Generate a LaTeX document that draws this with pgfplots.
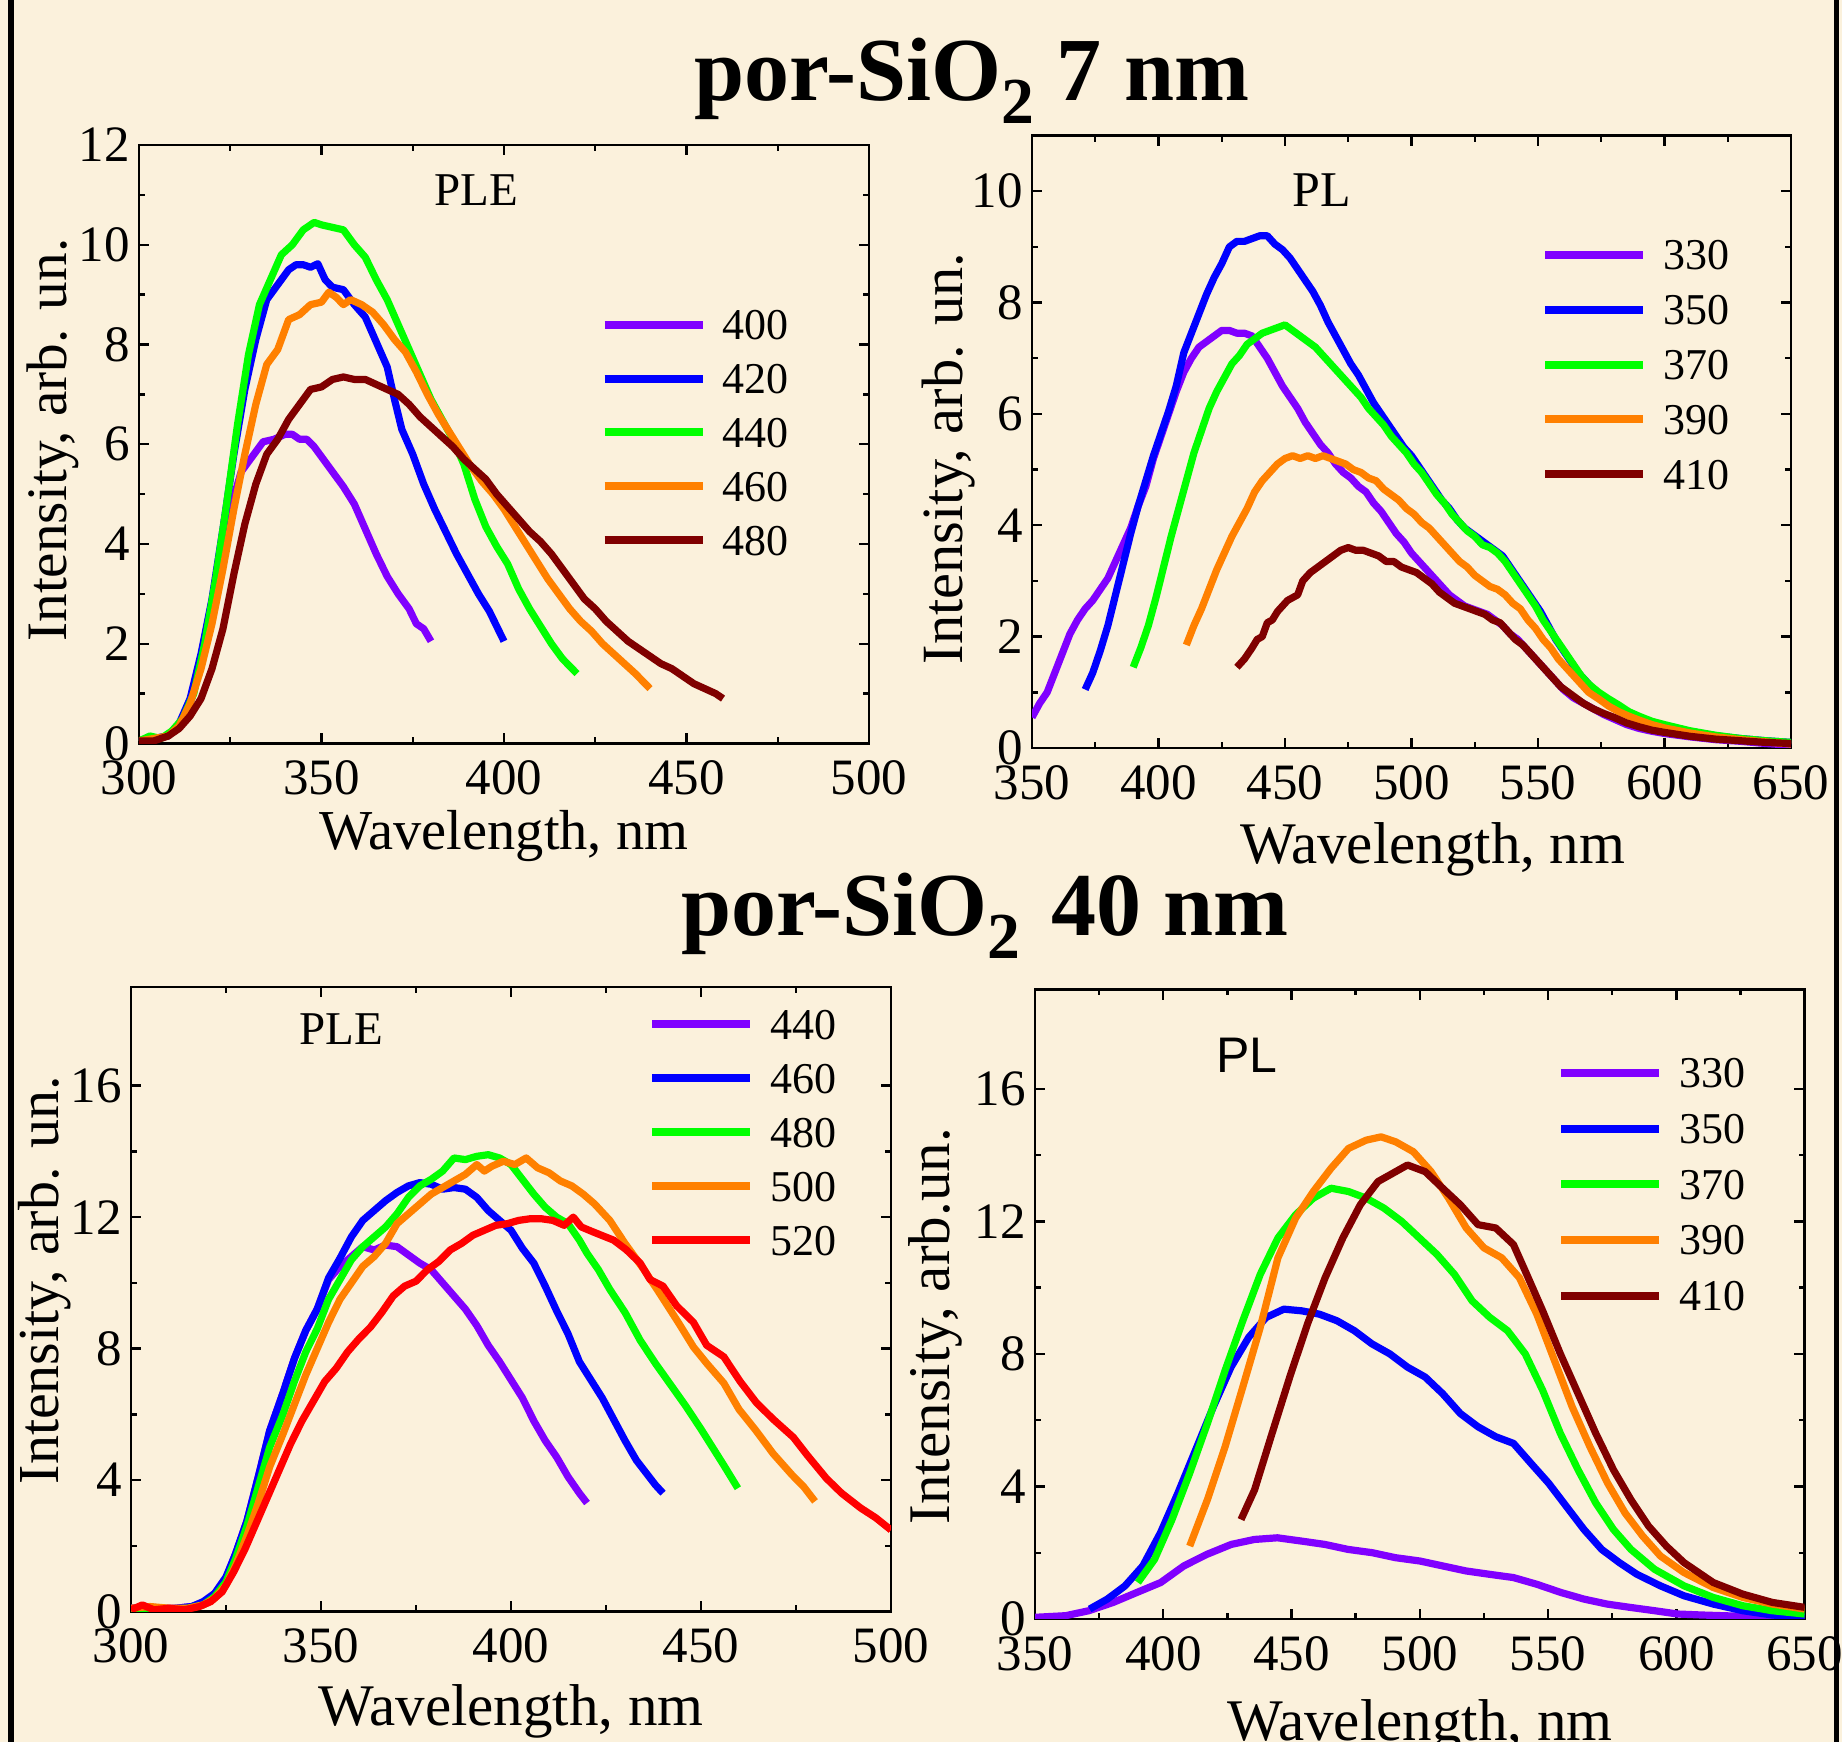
\documentclass[border=0pt]{standalone}
\usepackage{fontspec}
\setmainfont{Liberation Serif}
\newfontfamily\arialf{Liberation Sans}
\usepackage{pgfplots}
\pgfplotsset{compat=1.18}
\definecolor{bgc}{RGB}{251,241,220}
\definecolor{cviolet}{RGB}{128,0,255}
\definecolor{cblue}{RGB}{0,0,255}
\definecolor{cgreen}{RGB}{0,255,0}
\definecolor{corange}{RGB}{255,128,0}
\definecolor{cdred}{RGB}{128,0,0}
\definecolor{cred}{RGB}{255,0,0}
\pgfplotsset{
  panel/.style={
    scale only axis,
    axis line style={line width=0.6pt},
    tick align=inside,
    major tick length=2.6pt, minor tick length=1.5pt,
    tick style={line width=0.6pt, black},
    minor tick num=1,
    /pgf/number format/assume math mode=true,
    ticklabel style={font=\fontsize{12.75}{12.75}\selectfont},
    yticklabel style={xshift=1.2pt},
    xticklabel style={yshift=-0.8pt},
    label style={font=\fontsize{14.75}{14.75}\selectfont},
    xlabel={Wavelength, nm},
    ylabel={Intensity, arb. un.},
    every axis plot/.append style={line width=1.8pt, line join=round, no markers},
    legend cell align=left,
    legend style={draw=none, fill=none, inner sep=0pt, outer sep=0pt,
      font=\fontsize{11}{11}\selectfont, anchor=north west,
      nodes={inner sep=0pt, text height=7.5pt, text depth=0pt},
      /tikz/every odd column/.append style={column sep=4pt}},
    legend image code/.code={\path (0pt,-3.75pt) (24.5pt,3.75pt);
      \draw[#1, line width=2pt, line cap=butt] (0pt,0pt) -- (24.5pt,0pt);},
  }
}
\begin{document}
\begin{tikzpicture}
\fill[bgc] (0pt,0pt) rectangle (460.5pt,435.5pt);
\path[use as bounding box] (0pt,0pt) rectangle (460.5pt,435.5pt);
\fill[black] (2pt,0pt) rectangle (3.5pt,435.5pt);
\fill[black] (458.6pt,0pt) rectangle (459.8pt,435.5pt);

\node[anchor=base west, font=\fontsize{22.5}{22.5}\selectfont\bfseries] at (170.15pt,410.3pt)
  {por-SiO\raisebox{-5.6pt}{\fontsize{16.4}{16.4}\selectfont 2} 7 nm};
\node[anchor=base west, font=\fontsize{22.5}{22.5}\selectfont\bfseries] at (166.75pt,201.5pt)
  {por-SiO\raisebox{-5.6pt}{\fontsize{16.4}{16.4}\selectfont 2}\hspace{2pt} 40 nm};

% ---------- top left: 7 nm PLE ----------
\begin{axis}[panel, at={(34.75pt,249.625pt)}, anchor=south west,
  width=182.5pt, height=149.6pt,
  xmin=300, xmax=500, ymin=0, ymax=12,
  xtick={300,350,...,500}, ytick={0,2,...,12},
  xlabel style={font=\fontsize{14.1}{14.1}\selectfont, at={(axis description cs:0.5,-0.154)}, anchor=center},
  ylabel style={font=\fontsize{14.3}{14.3}\selectfont, at={(axis description cs:-0.118,0.507)}, anchor=center},
  legend style={at={(axis description cs:0.6325,0.7306)}, row sep=4.15pt}]
\addplot[cviolet] coordinates {(300,0.05)(304,0.1)(308,0.15)(311,0.35)(314,0.8)(317,1.6)(320,2.8)(322,3.5)(324,4.3)(326,4.95)(328,5.45)(331,5.75)(334,6.05)(337,6.1)(340,6.2)(342,6.2)(344,6.1)(346,6.1)(348,5.95)(350,5.75)(353,5.45)(356,5.15)(359,4.8)(362,4.3)(365,3.8)(368,3.35)(371,3.0)(374,2.7)(376,2.4)(378,2.3)(380,2.05)};
\addplot[cblue] coordinates {(300,0.05)(304,0.1)(308,0.15)(311,0.4)(314,0.9)(317,1.8)(320,2.9)(323,4.3)(326,5.8)(329,7.1)(332,8.1)(335,8.9)(338,9.2)(341,9.5)(343,9.6)(345,9.6)(347,9.55)(349,9.62)(351,9.3)(353,9.15)(356,9.1)(359,8.8)(362,8.55)(365,8.05)(368,7.55)(370,6.9)(372,6.3)(375,5.8)(378,5.2)(381,4.7)(384,4.25)(387,3.8)(390,3.4)(393,3.0)(396,2.65)(398,2.35)(400,2.05)};
\addplot[cgreen] coordinates {(300,0.05)(303,0.15)(306,0.1)(309,0.25)(312,0.5)(315,1.0)(318,2.0)(321,3.3)(324,4.8)(327,6.4)(330,7.8)(333,8.8)(336,9.3)(339,9.8)(342,10.0)(345,10.3)(348,10.45)(350,10.4)(353,10.35)(356,10.3)(359,10.0)(362,9.75)(365,9.3)(368,8.9)(371,8.4)(374,7.9)(377,7.4)(380,6.9)(383,6.5)(386,6.1)(389,5.6)(392,4.9)(395,4.35)(398,3.95)(401,3.6)(404,3.1)(407,2.7)(410,2.35)(413,2.0)(416,1.7)(418,1.55)(420,1.4)};
\addplot[corange] coordinates {(300,0.05)(304,0.1)(308,0.15)(311,0.35)(314,0.8)(317,1.5)(320,2.4)(323,3.5)(326,4.7)(329,5.8)(332,6.8)(335,7.6)(338,7.9)(341,8.5)(344,8.6)(347,8.8)(350,8.85)(352,9.05)(354,8.95)(356,8.8)(358,8.9)(361,8.8)(364,8.65)(367,8.4)(370,8.1)(373,7.85)(376,7.45)(379,7.0)(382,6.6)(385,6.25)(388,5.9)(391,5.55)(394,5.25)(397,5.0)(400,4.7)(403,4.35)(406,4.0)(409,3.65)(412,3.3)(415,3.0)(418,2.7)(421,2.45)(424,2.25)(427,2.0)(430,1.8)(433,1.6)(436,1.4)(438,1.25)(440,1.1)};
\addplot[cdred] coordinates {(300,0.05)(304,0.05)(308,0.15)(311,0.3)(314,0.55)(317,0.9)(320,1.5)(323,2.3)(326,3.4)(329,4.4)(332,5.2)(335,5.8)(338,6.1)(341,6.5)(344,6.8)(347,7.1)(350,7.15)(353,7.3)(356,7.35)(359,7.3)(362,7.3)(365,7.2)(368,7.1)(371,7.0)(374,6.8)(377,6.55)(380,6.35)(383,6.15)(386,5.95)(389,5.7)(392,5.5)(395,5.3)(398,5.0)(401,4.75)(404,4.5)(407,4.25)(410,4.05)(413,3.8)(416,3.5)(419,3.2)(422,2.9)(425,2.7)(428,2.45)(431,2.25)(434,2.05)(437,1.9)(440,1.75)(443,1.6)(446,1.5)(449,1.35)(452,1.2)(455,1.1)(458,1.0)(460,0.9)};
\legend{400,420,440,460,480}
\node[font=\fontsize{11.75}{11.75}\selectfont] at (axis description cs:0.4616,0.9248) {PLE};
\end{axis}

% ---------- top right: 7 nm PL ----------
\begin{axis}[panel, at={(258pt,248.5pt)}, anchor=south west,
  width=189.75pt, height=153.1pt,
  xmin=350, xmax=650, ymin=0, ymax=11,
  xtick={350,400,...,650}, ytick={0,2,...,10},
  xlabel style={at={(axis description cs:0.528,-0.165)}, anchor=center},
  ylabel style={font=\fontsize{14.6}{14.6}\selectfont, at={(axis description cs:-0.1106,0.473)}, anchor=center},
  legend style={at={(axis description cs:0.671,0.8355)}, row sep=4.4pt}]
\addplot[cviolet] coordinates {(350,0.55)(353,0.8)(356,1.0)(359,1.35)(362,1.7)(365,2.05)(368,2.3)(371,2.5)(374,2.65)(377,2.85)(380,3.05)(383,3.35)(386,3.65)(389,3.95)(392,4.35)(395,4.7)(398,5.2)(401,5.6)(404,6.0)(407,6.4)(410,6.75)(413,7.0)(416,7.2)(419,7.3)(422,7.4)(425,7.5)(428,7.5)(431,7.45)(434,7.45)(437,7.4)(440,7.2)(443,7.0)(446,6.75)(449,6.5)(452,6.3)(455,6.1)(458,5.85)(461,5.65)(464,5.45)(467,5.3)(470,5.1)(473,4.95)(476,4.85)(479,4.7)(482,4.6)(485,4.4)(488,4.25)(491,4.05)(494,3.85)(497,3.7)(500,3.5)(503,3.35)(506,3.2)(509,3.05)(512,2.9)(515,2.75)(518,2.65)(521,2.55)(524,2.5)(527,2.45)(530,2.4)(533,2.3)(536,2.2)(539,2.05)(542,1.95)(545,1.8)(548,1.65)(551,1.5)(554,1.35)(557,1.2)(560,1.05)(564,0.9)(568,0.8)(572,0.7)(576,0.6)(580,0.52)(585,0.42)(590,0.35)(595,0.3)(600,0.26)(610,0.2)(620,0.15)(630,0.12)(640,0.08)(650,0.05)};
\addplot[cblue] coordinates {(371,1.05)(374,1.35)(377,1.75)(380,2.2)(383,2.75)(386,3.3)(389,3.85)(392,4.35)(395,4.8)(398,5.25)(401,5.65)(404,6.05)(407,6.5)(410,7.1)(413,7.45)(416,7.8)(419,8.15)(422,8.45)(425,8.7)(428,9.0)(431,9.1)(434,9.1)(437,9.15)(440,9.2)(443,9.2)(446,9.05)(449,8.95)(452,8.8)(455,8.6)(458,8.4)(461,8.2)(464,7.95)(467,7.65)(470,7.4)(473,7.15)(476,6.9)(479,6.7)(482,6.45)(485,6.2)(488,6.0)(491,5.8)(494,5.6)(497,5.4)(500,5.25)(503,5.05)(506,4.85)(509,4.65)(512,4.45)(515,4.3)(518,4.1)(521,3.95)(524,3.85)(527,3.75)(530,3.65)(533,3.55)(536,3.45)(539,3.25)(542,3.05)(545,2.85)(548,2.65)(551,2.45)(554,2.2)(557,1.95)(560,1.75)(563,1.55)(566,1.35)(569,1.2)(572,1.05)(576,0.92)(580,0.8)(585,0.65)(590,0.55)(595,0.46)(600,0.4)(610,0.3)(620,0.22)(630,0.17)(640,0.13)(650,0.1)};
\addplot[cgreen] coordinates {(390,1.45)(393,1.8)(396,2.2)(399,2.7)(402,3.25)(405,3.8)(408,4.3)(411,4.8)(414,5.3)(417,5.7)(420,6.1)(423,6.4)(426,6.65)(429,6.9)(432,7.05)(435,7.25)(438,7.35)(441,7.45)(444,7.5)(447,7.55)(450,7.6)(453,7.5)(456,7.4)(459,7.3)(462,7.2)(465,7.05)(468,6.9)(471,6.75)(474,6.6)(477,6.45)(480,6.3)(483,6.1)(486,5.95)(489,5.8)(492,5.6)(495,5.45)(498,5.3)(501,5.1)(504,4.95)(507,4.75)(510,4.55)(513,4.4)(516,4.2)(519,4.05)(522,3.9)(525,3.8)(528,3.65)(531,3.6)(534,3.5)(537,3.35)(540,3.15)(543,2.95)(546,2.75)(549,2.55)(552,2.3)(555,2.1)(558,1.9)(561,1.7)(564,1.5)(567,1.3)(570,1.15)(574,1.0)(578,0.88)(582,0.77)(586,0.65)(590,0.57)(595,0.48)(600,0.42)(610,0.31)(620,0.23)(630,0.17)(640,0.13)(650,0.1)};
\addplot[corange] coordinates {(411,1.85)(414,2.2)(417,2.5)(420,2.85)(423,3.2)(426,3.5)(429,3.8)(432,4.05)(435,4.3)(438,4.6)(441,4.8)(444,4.95)(447,5.1)(450,5.2)(453,5.25)(456,5.2)(459,5.25)(462,5.2)(465,5.25)(468,5.2)(471,5.15)(474,5.1)(477,5.0)(480,4.95)(483,4.85)(486,4.8)(489,4.65)(492,4.55)(495,4.45)(498,4.3)(501,4.2)(504,4.05)(507,3.95)(510,3.8)(513,3.65)(516,3.5)(519,3.35)(522,3.25)(525,3.1)(528,3.0)(531,2.9)(534,2.85)(537,2.75)(540,2.6)(543,2.5)(546,2.3)(549,2.15)(552,1.95)(555,1.8)(558,1.6)(561,1.45)(564,1.3)(567,1.15)(570,1.0)(574,0.88)(578,0.75)(582,0.65)(586,0.57)(590,0.5)(595,0.42)(600,0.36)(610,0.27)(620,0.2)(630,0.15)(640,0.11)(650,0.07)};
\addplot[cdred] coordinates {(431,1.45)(434,1.6)(437,1.8)(439,1.95)(441,2.0)(443,2.25)(445,2.3)(447,2.45)(449,2.55)(451,2.65)(453,2.7)(455,2.75)(457,3.0)(460,3.15)(463,3.25)(466,3.35)(469,3.45)(472,3.55)(475,3.6)(478,3.55)(481,3.55)(484,3.5)(487,3.45)(490,3.35)(493,3.35)(496,3.25)(499,3.2)(502,3.15)(505,3.05)(508,2.95)(511,2.8)(514,2.7)(517,2.6)(520,2.55)(523,2.5)(526,2.45)(529,2.4)(532,2.3)(535,2.25)(538,2.1)(541,1.95)(544,1.85)(547,1.7)(550,1.55)(553,1.4)(556,1.25)(559,1.1)(562,1.0)(565,0.9)(568,0.8)(572,0.7)(576,0.62)(580,0.55)(585,0.45)(590,0.38)(595,0.32)(600,0.28)(610,0.21)(620,0.16)(630,0.13)(640,0.1)(650,0.08)};
\legend{330,350,370,390,410}
\node[font=\fontsize{12.5}{12.5}\selectfont] at (axis description cs:0.382,0.911) {PL};
\end{axis}

% ---------- bottom left: 40 nm PLE ----------
\begin{axis}[panel, at={(32.75pt,32.625pt)}, anchor=south west,
  width=190pt, height=156.1pt,
  xmin=300, xmax=500, ymin=0, ymax=19,
  xtick={300,350,...,500}, ytick={0,4,...,16},
  xlabel style={at={(axis description cs:0.5,-0.160)}, anchor=center},
  ylabel style={font=\fontsize{14.5}{14.5}\selectfont, at={(axis description cs:-0.114,0.531)}, anchor=center},
  legend style={at={(axis description cs:0.6809,0.9704)}, row sep=4.2pt}]
\addplot[cviolet] coordinates {(300,0.1)(304,0.15)(308,0.1)(312,0.1)(316,0.15)(319,0.25)(322,0.5)(325,1.0)(327.5,1.75)(330.5,2.75)(333.5,4.1)(336.5,5.5)(340,6.65)(343,7.7)(346,8.55)(349,9.2)(352,10.1)(355,10.5)(358,10.8)(361,11.1)(364,11.0)(367,11.15)(370,11.1)(373,10.85)(376,10.6)(379,10.4)(382,10.0)(385,9.6)(388,9.2)(391,8.7)(394,8.1)(397,7.6)(400,7.05)(403,6.5)(406,5.8)(409,5.2)(412,4.7)(415,4.1)(418,3.6)(420,3.3)};
\addplot[cblue] coordinates {(300,0.1)(304,0.1)(308,0.05)(312,0.1)(316,0.15)(319,0.3)(322,0.55)(325,1.05)(327.5,1.75)(330.5,2.75)(333.5,4.1)(336.5,5.5)(340,6.65)(343,7.7)(346,8.55)(349,9.2)(352,10.15)(355,10.75)(358,11.4)(361,11.9)(364,12.2)(367,12.5)(370,12.75)(373,12.95)(376,13.05)(379,13.0)(382,12.85)(385,12.9)(388,12.85)(391,12.6)(394,12.2)(397,11.9)(400,11.6)(403,11.05)(406,10.6)(409,9.9)(412,9.15)(415,8.45)(418,7.6)(421,7.05)(424,6.5)(427,5.85)(430,5.2)(433,4.6)(436,4.15)(438,3.85)(440,3.6)};
\addplot[cgreen] coordinates {(300,0.05)(305,0.1)(310,0.05)(315,0.1)(319,0.2)(322,0.45)(325,0.9)(327.5,1.6)(330.5,2.6)(333.5,3.8)(336.5,5.0)(340,6.0)(343,7.0)(346,7.9)(349,8.6)(352,9.5)(355,10.1)(358,10.7)(361,11.1)(364,11.4)(367,11.7)(370,12.1)(373,12.6)(376,12.95)(379,13.15)(382,13.4)(385,13.8)(388,13.75)(391,13.85)(394,13.9)(397,13.8)(400,13.6)(403,13.15)(406,12.7)(409,12.3)(412,12.0)(415,11.8)(418,11.3)(420,10.9)(423,10.4)(426,9.8)(430,9.1)(434,8.25)(438,7.55)(442,6.9)(446,6.25)(450,5.55)(453,5.0)(456,4.45)(459.7,3.75)};
\addplot[corange] coordinates {(300,0.1)(305,0.15)(310,0.1)(315,0.1)(319,0.2)(322,0.4)(325,0.8)(327.5,1.4)(330.5,2.3)(333.5,3.3)(336.5,4.4)(340,5.4)(343,6.3)(346,7.2)(349,8.0)(352,8.8)(355,9.5)(358,10.0)(361,10.5)(364,10.8)(367,11.2)(370,11.8)(373,12.1)(376,12.4)(379,12.7)(382,12.9)(385,13.1)(388,13.3)(391,13.6)(393,13.4)(395,13.55)(398,13.7)(401,13.6)(404,13.8)(407,13.5)(410,13.35)(413,13.1)(416,12.95)(419,12.7)(422,12.4)(426,11.9)(430,11.2)(435,10.4)(439,9.7)(444,8.8)(448,8.05)(451.5,7.55)(456,6.95)(460,6.15)(464.5,5.5)(469,4.8)(474,4.15)(477,3.8)(480,3.35)};
\addplot[cred] coordinates {(300,0.05)(303,0.2)(306,0.05)(310,0.1)(314,0.05)(318,0.15)(321,0.3)(324,0.6)(327,1.2)(330,1.9)(333,2.7)(336,3.5)(339,4.3)(342,5.1)(345,5.8)(348,6.4)(351,7.0)(354,7.4)(357,7.9)(360,8.3)(363,8.65)(366,9.1)(369,9.6)(372,9.9)(375,10.05)(378,10.4)(381,10.65)(384,11.0)(387,11.2)(390,11.45)(393,11.6)(396,11.75)(399,11.8)(402,11.9)(405,11.95)(408,11.95)(411,11.9)(414,11.75)(416.4,12.0)(418.5,11.7)(421.6,11.55)(427,11.3)(430.4,11.0)(434,10.6)(436.6,10.1)(440,9.9)(443.6,9.3)(448,8.8)(451.5,8.1)(456,7.75)(460.3,7.0)(464.6,6.35)(469,5.85)(474.3,5.3)(478,4.75)(483,4.05)(487,3.6)(492,3.15)(496,2.85)(500,2.48)};
\legend{440,460,480,500,520}
\node[font=\fontsize{11.75}{11.75}\selectfont] at (axis description cs:0.2763,0.9327) {PLE};
\end{axis}

% ---------- bottom right: 40 nm PL ----------
\begin{axis}[panel, at={(258.75pt,30.75pt)}, anchor=south west,
  width=192.4pt, height=157.4pt,
  xmin=350, xmax=650, ymin=0, ymax=19,
  xtick={350,400,...,650}, ytick={0,4,...,16},
  ylabel={Intensity, arb.un.},
  xlabel style={at={(axis description cs:0.5,-0.171)}, anchor=center},
  ylabel style={at={(axis description cs:-0.130,0.465)}, anchor=center},
  legend style={at={(axis description cs:0.6788,0.8968)}, row sep=4.62pt}]
\addplot[cviolet] coordinates {(350,0.05)(362,0.1)(371,0.25)(380.5,0.5)(389.7,0.8)(399,1.1)(408,1.6)(417,1.95)(426.5,2.25)(435.5,2.4)(444.5,2.45)(454,2.35)(463,2.25)(472,2.1)(481.5,2.0)(490.5,1.85)(500,1.75)(509,1.6)(518,1.45)(527,1.35)(536.5,1.25)(545.5,1.05)(555,0.8)(564,0.6)(573,0.45)(582,0.35)(591.5,0.25)(600.5,0.15)(610,0.12)(626,0.08)(650,0.05)};
\addplot[cblue] coordinates {(371.3,0.3)(378.2,0.6)(385.1,1.0)(392,1.6)(398.9,2.6)(405.7,3.8)(412.6,5.1)(419.5,6.4)(426.4,7.6)(433.3,8.5)(440.1,9.1)(447,9.35)(453.9,9.3)(460.8,9.2)(467.7,9.0)(474.5,8.7)(481.4,8.3)(488.3,8.0)(495.2,7.6)(502.1,7.3)(508.9,6.8)(515.8,6.2)(522.7,5.8)(529.6,5.5)(536.5,5.3)(543.3,4.7)(550.2,4.1)(557.1,3.4)(564,2.7)(570.9,2.1)(577.8,1.7)(584.6,1.35)(593.8,1.0)(603,0.7)(614.4,0.45)(625.9,0.25)(637.4,0.12)(650,0.05)};
\addplot[cgreen] coordinates {(390.1,1.1)(396.6,1.8)(403.4,3.0)(410.3,4.4)(417.2,5.9)(424.1,7.5)(431,9.0)(437.8,10.4)(444.7,11.5)(451.6,12.2)(458.5,12.7)(465.4,13.0)(472.2,12.9)(479.1,12.7)(486,12.4)(492.9,12.0)(499.8,11.5)(506.7,11.0)(513.5,10.4)(520.4,9.6)(527.3,9.1)(534.2,8.7)(541.1,8.0)(547.9,6.9)(554.8,5.6)(561.7,4.5)(568.6,3.5)(575.5,2.7)(582.3,2.1)(591.5,1.5)(603,1.0)(614.4,0.65)(625.9,0.4)(637.4,0.25)(650,0.15)};
\addplot[corange] coordinates {(410.3,2.2)(417.2,3.6)(424.1,5.2)(431,7.0)(437.8,8.8)(444.7,10.9)(451.6,12.1)(458.5,12.9)(465.4,13.6)(472.2,14.2)(479.1,14.45)(484.9,14.55)(490.6,14.4)(497.5,14.1)(504.4,13.5)(511.2,12.7)(518.1,11.8)(525,11.2)(531.9,10.9)(538.8,10.3)(545.6,9.2)(552.5,7.8)(559.4,6.4)(566.3,5.2)(573.2,4.1)(580,3.2)(586.9,2.5)(593.8,1.9)(603,1.4)(614.4,0.95)(625.9,0.65)(637.4,0.45)(650,0.3)};
\addplot[cdred] coordinates {(430.3,3.0)(435.6,3.9)(442.4,5.6)(449.3,7.3)(456.2,8.9)(463.1,10.3)(470,11.5)(476.8,12.5)(483.7,13.2)(490.6,13.5)(495.2,13.7)(502.1,13.5)(508.9,13.0)(515.8,12.5)(522.7,11.9)(529.6,11.8)(536.5,11.3)(541.1,10.5)(547.9,9.3)(554.8,8.0)(561.7,6.8)(568.6,5.6)(575.5,4.5)(582.3,3.6)(589.2,2.8)(596.1,2.2)(603,1.7)(614.4,1.1)(625.9,0.75)(637.4,0.5)(650,0.35)};
\legend{330,350,370,390,410}
\node[font=\arialf\fontsize{12.5}{12.5}\selectfont] at (axis description cs:0.2755,0.896) {PL};
\end{axis}
\end{tikzpicture}
\end{document}
